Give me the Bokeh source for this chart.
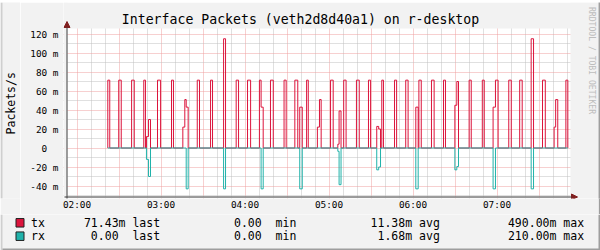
import math
from bokeh.plotting import figure
from bokeh.layouts import column, row
from bokeh.models import Range1d, FixedTicker, Label, BoxAnnotation, Arrow, NormalHead
from bokeh.core.properties import value
from bokeh.embed import file_html
from bokeh.resources import INLINE

# ---------------- data (time in minutes after midnight, values in milli-packets/s) ----------------
seg_start = [142.0, 149.8, 159.0, 167.7, 169.6, 171.1, 177.5, 187.5, 195.6, 197.0, 198.0, 205.9,
             215.4, 224.7, 233.7, 241.8, 250.3, 251.5, 258.2, 267.9, 275.6, 279.1, 284.0, 291.7,
             293.2, 301.1, 306.3, 307.2, 310.5, 319.6, 328.2, 334.1, 335.5, 337.7, 346.8, 354.8,
             362.0, 364.2, 373.2, 381.8, 389.9, 391.3, 400.1, 409.5, 417.2, 418.9, 428.4, 436.2,
             444.4, 452.5, 460.8, 461.9, 469.2]
seg_end = [143.4, 151.6, 160.9, 168.9, 171.1, 172.5, 179.7, 188.9, 197.0, 198.0, 199.4, 207.5,
           216.8, 226.1, 235.4, 244.0, 251.5, 253.0, 260.2, 269.4, 277.7, 280.9, 285.2, 293.2,
           294.4, 303.0, 307.2, 308.6, 312.2, 321.6, 329.7, 335.5, 336.8, 338.9, 348.3, 356.5,
           363.7, 365.9, 375.1, 383.2, 391.3, 392.5, 401.6, 410.9, 418.9, 420.8, 430.2, 438.0,
           446.1, 454.5, 461.9, 463.4, 470.6]
tx_level = [71.43, 71.43, 71.43, 71.43, 12, 30, 71.43, 71.43, 22, 51, 43, 71.43,
            71.43, 115, 71.43, 71.43, 71.43, 43, 71.43, 71.43, 71.43, 43, 71.43, 22,
            51, 71.43, 4, 39, 71.43, 71.43, 71.43, 22.7, 20, 71.43, 71.43, 71.43,
            43, 71.43, 71.43, 71.43, 45, 70, 71.43, 71.43, 43, 71.43, 71.43, 71.43,
            115, 71.43, 22, 51, 71.43]
rx_level = [0, 0, 0, 0, -12, -30, 0, 0, 0, 0, -43, 0,
            0, -43, 0, 0, 0, -43, 0, 0, 0, -43, 0, 0,
            0, 0, -3.5, -38.6, 0, 0, 0, -23, -20, 0, 0, 0,
            -43, 0, 0, 0, -23, -19.5, 0, 0, -43, 0, 0, 0,
            -43, 0, 0, 0, 0]

x_tick_values = [120, 180, 240, 300, 360, 420]
x_tick_labels = ["02:00", "03:00", "04:00", "05:00", "06:00", "07:00"]
y_tick_values = [-40, -20, 0, 20, 40, 60, 80, 100, 120]
y_tick_labels = ["-40 m", "-20 m", "0\u00a0\u00a0", "20 m", "40 m", "60 m", "80 m", "100 m", "120 m"]

series_names = ["tx", "rx"]
series_colors = ["#DC143C", "#20B2AA"]
stat_last = ["71.43m", "0.00"]
stat_min = ["0.00", "0.00"]
stat_avg = ["11.38m", "1.68m"]
stat_max = ["490.00m", "210.00m"]

title_text = "Interface Packets (veth2d8d40a1) on r-desktop"
y_label = "Packets/s"
watermark = "RRDTOOL / TOBI OETIKER"

# ---------------- layout helpers (canvas pixel -> data) ----------------
W, H = 600, 250
BEV = 2                     # width of the 3D border
H_MAIN = 214                # canvas y where the legend strip starts
STRIP = 20                  # width of the strip holding the y-axis title
FX0, FY1 = 63, 198          # frame left / bottom in canvas px
PX_T0, PX_PER_MIN = 76.5, 1.4
PY_ZERO, PX_PER_M = 147.5, 0.95


def dx(px):
    return 120 + (px - PX_T0) / PX_PER_MIN


def dy(py):
    return (PY_ZERO - py) / PX_PER_M


MONO = "DejaVu Sans Mono"
BG = "#F2F2F2"
SHADE_A = "#CFCFCF"
SHADE_B = "#9E9E9E"
AXIS = "#404040"
ARROW = "#801F1F"


def blank(width, height, xr, yr, fill):
    f = figure(width=width, height=height, output_backend="svg", toolbar_location=None,
               x_range=xr, y_range=yr, x_axis_type=None, y_axis_type=None,
               min_border_left=0, min_border_right=0, min_border_top=0, min_border_bottom=0)
    f.background_fill_color = fill
    f.border_fill_color = fill
    f.outline_line_color = None
    f.xgrid.visible = False
    f.ygrid.visible = False
    return f


# ---------------- main plot ----------------
main_w = W - STRIP - BEV
main_h = H_MAIN - BEV
p = figure(width=main_w, height=main_h, output_backend="svg", toolbar_location=None,
           x_range=Range1d(dx(FX0), dx(W - BEV)), y_range=Range1d(dy(FY1), dy(BEV)),
           min_border_left=FX0 - STRIP, min_border_right=0, min_border_top=0,
           min_border_bottom=H_MAIN - FY1)
p.background_fill_color = "white"
p.border_fill_color = BG
p.outline_line_color = None

# grids
p.xgrid.ticker = FixedTicker(ticks=[t for t in range(120, 471, 30)],
                             minor_ticks=[t for t in range(120, 471, 10) if t % 30 != 0])
p.ygrid.ticker = FixedTicker(ticks=list(range(-40, 121, 20)),
                             minor_ticks=[v for v in range(-50, 121, 10) if v % 20 != 0])
for g in (p.xgrid, p.ygrid):
    g.grid_line_color = "#EFA0A0"
    g.grid_line_dash = "1 1"
    g.grid_line_width = 1
    g.minor_grid_line_color = "#C0C0C0"
    g.minor_grid_line_dash = "1 1"
    g.minor_grid_line_width = 1

# grey margins inside the frame (outside the white plot area)
for kw in (dict(right=dx(67)), dict(left=dx(570)), dict(bottom=dy(28)), dict(top=dy(196))):
    p.add_layout(BoxAnnotation(fill_color=BG, fill_alpha=1.0, line_color=None,
                               level="underlay", **kw))

# axes (labels from Bokeh axes; axis lines drawn as arrows below)
p.xaxis.ticker = FixedTicker(ticks=x_tick_values)
p.xaxis.major_label_overrides = dict(zip(x_tick_values, x_tick_labels))
p.yaxis.ticker = FixedTicker(ticks=y_tick_values)
p.yaxis.major_label_overrides = dict(zip(y_tick_values, y_tick_labels))
for ax in (p.xaxis[0], p.yaxis[0]):
    ax.axis_line_color = None
    ax.major_tick_line_color = None
    ax.minor_tick_line_color = None
    ax.major_tick_in = 0
    ax.major_tick_out = 0
    ax.minor_tick_in = 0
    ax.minor_tick_out = 0
    ax.major_label_text_font = MONO
    ax.major_label_text_font_size = "9.4px"
    ax.major_label_text_color = "black"
p.xaxis.major_label_standoff = 0
p.yaxis.major_label_standoff = 5


# step series
def step_path(levels):
    bps = [(seg_start[0], 0.0)]
    for i, (s, e, v) in enumerate(zip(seg_start, seg_end, levels)):
        bps.append((s, v))
        nxt = seg_start[i + 1] if i + 1 < len(seg_start) else None
        if nxt is None or nxt > e:
            bps.append((e, 0.0))
    xs, ys = [], []
    for i, (t, v) in enumerate(bps):
        if i > 0:
            xs.append(t)
            ys.append(bps[i - 1][1])
        xs.append(t)
        ys.append(v)
    return xs, ys


for levels, color in zip([tx_level, rx_level], series_colors):
    xs, ys = step_path(levels)
    p.line(xs, ys, line_color=color, line_width=1)

# axis lines with arrow heads
p.add_layout(Arrow(end=NormalHead(size=6, fill_color=ARROW, line_color=ARROW, line_width=1),
                   x_start=dx(66.5), y_start=dy(199), x_end=dx(66.5), y_end=dy(21),
                   line_color=AXIS, line_width=1))
p.add_layout(Arrow(end=NormalHead(size=6, fill_color=ARROW, line_color=ARROW, line_width=1),
                   x_start=dx(64), y_start=dy(196.5), x_end=dx(577), y_end=dy(196.5),
                   line_color=AXIS, line_width=1))

# title and watermark
p.add_layout(Label(x=dx(300), y=dy(19), text=title_text, text_align="center",
                   text_baseline="middle", text_font=MONO, text_font_size="13.2px",
                   text_color="black"))
p.add_layout(Label(x=dx(591), y=dy(60), text=watermark, text_align="center",
                   text_baseline="middle", angle=-math.pi / 2, text_font=MONO,
                   text_font_size="8.1px", text_color="#BDBDBD"))

# ---------------- y-axis title strip (x = canvas px, y = px up from canvas row H_MAIN) ----------------
strip = blank(STRIP, main_h, Range1d(0, STRIP), Range1d(0, main_h), BG)
strip.add_layout(BoxAnnotation(right=BEV, fill_color=SHADE_A, fill_alpha=1.0, line_color=None))
strip.text(x=[10.5], y=[H_MAIN - 111], text=[y_label], angle=math.pi / 2,
           text_font=value(MONO), text_font_size=value("11.5px"),
           text_align="center", text_baseline="middle", text_color="black")

# ---------------- 3D border strips ----------------
top_bev = blank(W, BEV, Range1d(0, W), Range1d(0, BEV), SHADE_A)
right_bev = blank(BEV, main_h, Range1d(0, BEV), Range1d(0, main_h), SHADE_B)

# ---------------- legend strip (data coordinates = canvas pixels) ----------------
leg = blank(W, H - H_MAIN, Range1d(0, W), Range1d(H, H_MAIN), BG)
leg.add_layout(BoxAnnotation(right=BEV, fill_color=SHADE_A, fill_alpha=1.0, line_color=None))
leg.add_layout(BoxAnnotation(left=W - BEV, fill_color=SHADE_B, fill_alpha=1.0, line_color=None))
leg.add_layout(BoxAnnotation(top=H - BEV, left=BEV, fill_color=SHADE_B, fill_alpha=1.0,
                             line_color=None))

row_y = [222.3, 235.7]
leg.rect(x=[19.5, 19.5], y=row_y, width=8, height=8.5, fill_color=series_colors,
         line_color="#202020", line_width=1)
leg.text(x=[30.6, 30.6], y=row_y, text=series_names, text_font=value(MONO),
         text_font_size=value("11.5px"), text_baseline="middle", text_align="left",
         text_color="black")


def lab(num, word):
    return num + ("\u00a0" if num.endswith("m") else "\u00a0\u00a0") + word


col_ends = [159.6, 295.8, 439.3, 583.6]
tx_, ty_, tt_ = [], [], []
for i in range(2):
    for txt, xr in zip([lab(stat_last[i], "last"), lab(stat_min[i], "min"),
                        stat_avg[i] + "\u00a0avg", stat_max[i] + "\u00a0max"], col_ends):
        tx_.append(xr)
        ty_.append(row_y[i])
        tt_.append(txt)
leg.text(x=tx_, y=ty_, text=tt_, text_font=value(MONO), text_font_size=value("11.5px"),
         text_baseline="middle", text_align="right", text_color="black")

layout = column(top_bev, row(strip, p, right_bev, spacing=0), leg, spacing=0)
open("out.html", "w").write(file_html(layout, INLINE))
